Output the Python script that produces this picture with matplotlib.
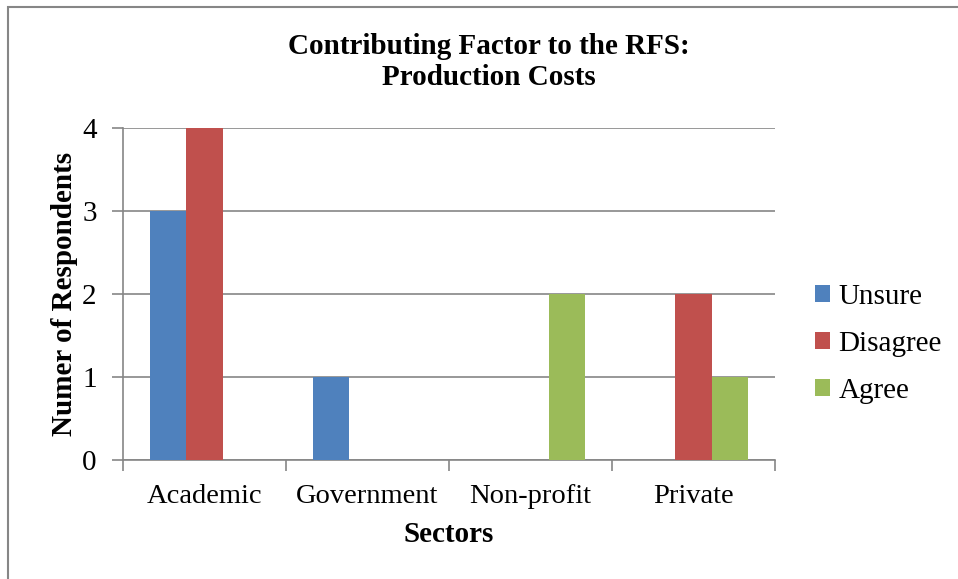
import numpy as np
import matplotlib.pyplot as plt
from matplotlib.patches import Rectangle

# Data
sectors = ['Academic', 'Government', 'Non-profit', 'Private']
series_names = ['Unsure', 'Disagree', 'Agree']
unsure = [3, 1, 0, 0]
disagree = [4, 0, 0, 2]
agree = [0, 0, 2, 1]

colors = ['#4F81BD', '#C0504D', '#9BBB59']
grey = '#868686'

plt.rcParams['font.family'] = ['Liberation Serif', 'DejaVu Serif']

fig = plt.figure(figsize=(9.58, 5.79), dpi=100)
ax = fig.add_axes([123 / 958, 1 - 460 / 579, 652 / 958, 332 / 579])

# chart frame (left/top visible, rest cut off by the image)
fig.patches.append(Rectangle((8 / 958, -0.1), 1.2, 1 - 7 / 579 + 0.1,
                             transform=fig.transFigure, fill=False,
                             edgecolor=grey, linewidth=1.5))

x = np.arange(len(sectors))
w = 1 / 4.5
for i, (vals, name) in enumerate(zip([unsure, disagree, agree], series_names)):
    ax.bar(x + (i - 1) * w, vals, width=w, color=colors[i], label=name, zorder=3)

ax.set_xlim(-0.5, len(sectors) - 0.5)
ax.set_ylim(0, 4)
ax.set_yticks(range(5))
ax.yaxis.grid(True, color=grey, linewidth=1.2, zorder=0)
ax.set_xticks(x)
ax.set_xticklabels(sectors, fontsize=20.5, va='baseline')
ax.tick_params(axis='x', length=0, pad=31)
ax.set_xticks(np.arange(-0.5, len(sectors)), minor=True)
ax.tick_params(axis='x', which='minor', length=8, color=grey, width=1.2)
ax.tick_params(axis='y', length=8, color=grey, width=1.2, labelsize=21, pad=11)

for s in ['top', 'right']:
    ax.spines[s].set_visible(False)
for s in ['left', 'bottom']:
    ax.spines[s].set_color(grey)
    ax.spines[s].set_linewidth(1.2)

ax.set_xlabel('Sectors', fontsize=21, fontweight='bold', va='center')
ax.xaxis.set_label_coords(0.5, -75 / 332)
ax.set_ylabel('Numer of Respondents', fontsize=21, fontweight='bold', labelpad=3)
fig.text(489 / 958, 1 - 62 / 579, 'Contributing Factor to the RFS:\nProduction Costs',
         ha='center', va='center', fontsize=21, fontweight='bold', linespacing=1.2)

ax.legend(loc='center left', bbox_to_anchor=(815 / 958, 1 - 344 / 579),
          bbox_transform=fig.transFigure, frameon=False,
          fontsize=21, handlelength=0.52, handleheight=0.52, handletextpad=0.28,
          labelspacing=0.715, borderaxespad=0, borderpad=0)

fig.savefig('out.png', dpi=100)
